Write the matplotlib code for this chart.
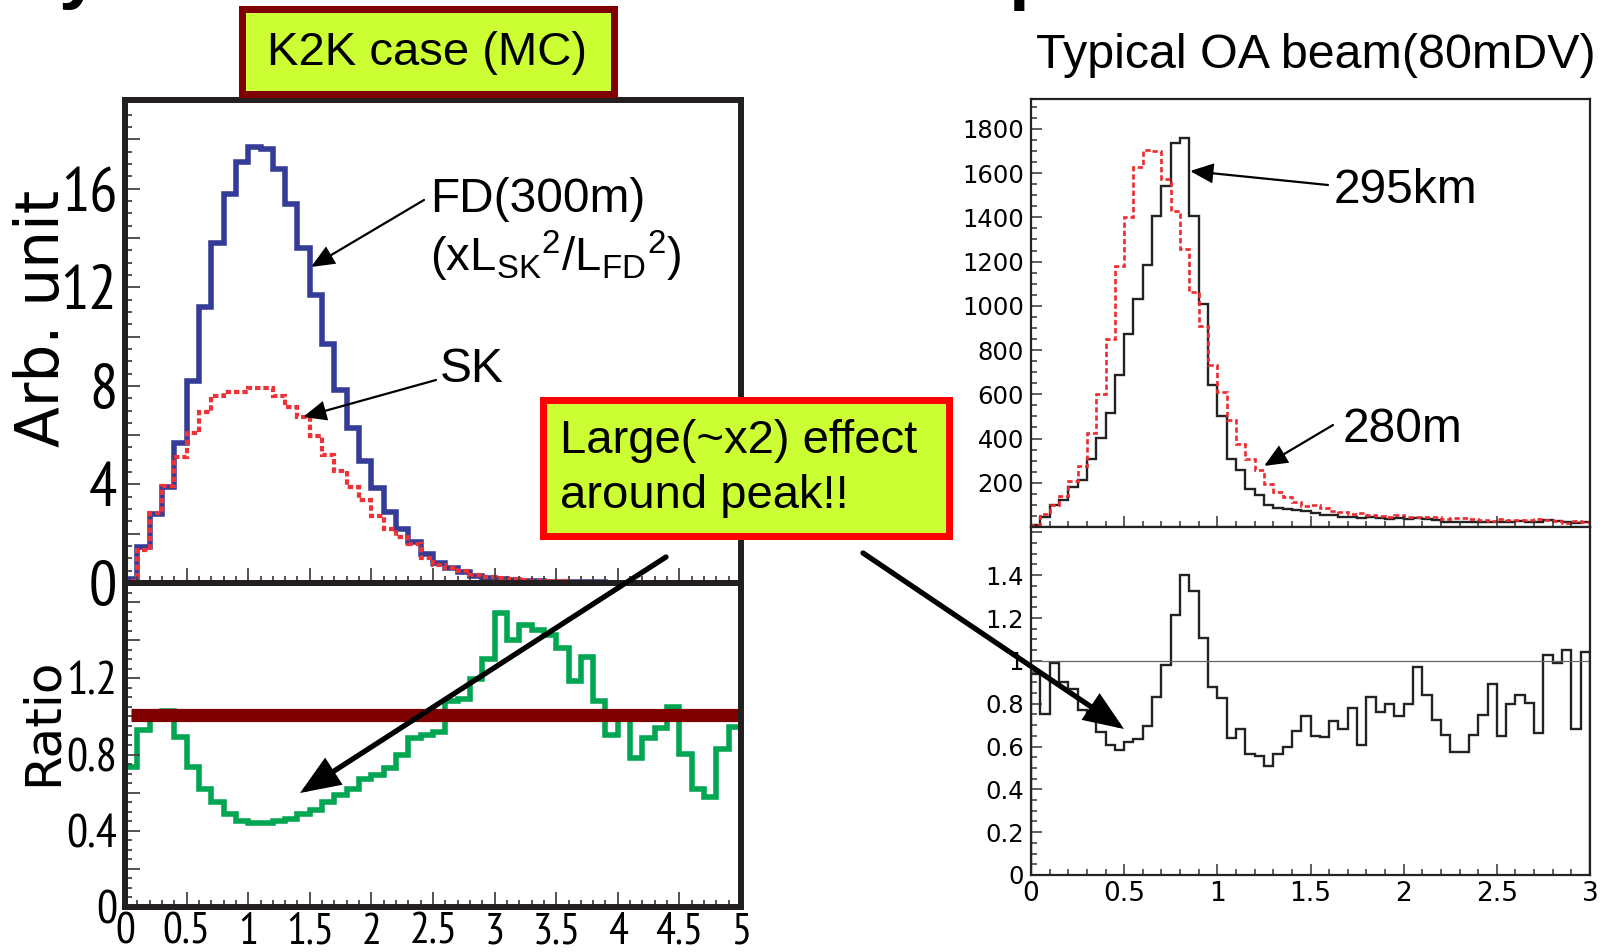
import numpy as np
import matplotlib
matplotlib.use("Agg")
import matplotlib.pyplot as plt
from matplotlib.patches import Rectangle, FancyArrowPatch
from matplotlib.ticker import MultipleLocator, FuncFormatter
from matplotlib.font_manager import FontProperties, fontManager, findfont
from matplotlib.textpath import TextPath

# ---------------- data ----------------
# K2K case (MC): 50 bins of 0.1 GeV from 0 to 5
k2k_range = (0.0, 5.0)
fd_300m = [0.15, 1.45, 2.8, 3.9, 5.7, 8.2, 11.2, 13.8, 15.8, 17.1,
           17.7, 17.6, 16.8, 15.4, 13.6, 11.7, 9.7, 7.85, 6.3, 4.96,
           3.85, 2.9, 2.2, 1.65, 1.16, 0.82, 0.62, 0.46, 0.3, 0.2,
           0.15, 0.11, 0.09, 0.07, 0.06, 0.05, 0.04, 0.03, 0.025, 0.02,
           0.015, 0.012, 0.01, 0.01, 0.008, 0.006, 0.005, 0.004, 0.004, 0.003]
sk = [0.1, 1.35, 2.85, 3.95, 5.1, 6.1, 6.95, 7.6, 7.75, 7.75,
      7.9, 7.9, 7.6, 7.15, 6.75, 5.95, 5.2, 4.55, 3.9, 3.35,
      2.7, 2.2, 1.85, 1.6, 1.0, 0.74, 0.62, 0.48, 0.32, 0.24,
      0.2, 0.15, 0.13, 0.1, 0.085, 0.068, 0.047, 0.04, 0.027, 0.018,
      0.015, 0.01, 0.009, 0.009, 0.008, 0.005, 0.003, 0.002, 0.003, 0.003]
k2k_ratio = [0.735, 0.93, 1.02, 1.03, 0.89, 0.735, 0.62, 0.55, 0.49, 0.45,
             0.44, 0.44, 0.45, 0.46, 0.49, 0.51, 0.55, 0.59, 0.62, 0.67,
             0.69, 0.73, 0.80, 0.885, 0.90, 0.92, 1.08, 1.09, 1.195, 1.30,
             1.54, 1.40, 1.48, 1.455, 1.425, 1.36, 1.185, 1.31, 1.08, 0.905,
             0.99, 0.78, 0.885, 0.94, 1.05, 0.805, 0.62, 0.575, 0.83, 0.945]
k2k_ref_level = 1.01
k2k_ref_span = (0.05, 5.0)
k2k_upper_labels = [0, 4, 8, 12, 16]
k2k_lower_labels = [0, 0.4, 0.8, 1.2]

# Typical OA beam (80mDV): 60 bins of 0.05 GeV from 0 to 3
oa_range = (0.0, 3.0)
oa_295km = [9, 43, 99, 124, 181, 214, 309, 403, 517, 687,
            871, 1029, 1186, 1408, 1543, 1738, 1759, 1408, 1006, 643,
            504, 309, 256, 174, 144, 99, 88, 81, 76, 72,
            65, 54, 52, 47, 47, 39, 43, 39, 36, 39,
            36, 42, 36, 31, 24, 24, 24, 24, 24, 24,
            24, 24, 26, 24, 24, 31, 29, 21, 17, 24]
oa_280m = [10, 57, 100, 138, 208, 278, 423, 601, 852, 1178,
           1400, 1626, 1706, 1698, 1574, 1429, 1256, 1061, 907, 731,
           609, 484, 374, 308, 259, 194, 156, 136, 113, 97,
           100, 84, 72, 69, 60, 64, 52, 51, 45, 53,
           45, 43, 43, 43, 37, 42, 42, 37, 32, 27,
           37, 30, 31, 30, 36, 30, 29, 20, 25, 23]
oa_ratio = [0.94, 0.754, 0.99, 0.90, 0.87, 0.77, 0.73, 0.67, 0.607, 0.583,
            0.622, 0.633, 0.695, 0.829, 0.98, 1.216, 1.40, 1.327, 1.109, 0.879,
            0.827, 0.638, 0.684, 0.565, 0.555, 0.509, 0.565, 0.596, 0.673, 0.742,
            0.649, 0.645, 0.72, 0.684, 0.782, 0.605, 0.832, 0.759, 0.80, 0.742,
            0.798, 0.972, 0.84, 0.726, 0.656, 0.575, 0.575, 0.653, 0.746, 0.894,
            0.649, 0.798, 0.84, 0.804, 0.661, 1.026, 0.988, 1.05, 0.684, 1.042]
oa_ref_level = 1.0
oa_lower_label_max = 1.4

# ---------------- styling ----------------
W, H, DPI = 1605, 952, 100
plt.rcParams['font.family'] = ['Liberation Sans', 'DejaVu Sans']
plt.rcParams['mathtext.fontset'] = 'custom'
plt.rcParams['mathtext.rm'] = 'Liberation Sans'
plt.rcParams['mathtext.it'] = 'Liberation Sans:italic'
plt.rcParams['mathtext.bf'] = 'Liberation Sans:bold'

BLUE, RED, GREEN, BROWN = '#343C97', '#EE3338', '#00A651', '#7F0000'
LIME = '#CCFF33'
FRAME = '#231F20'


# ---- pick the narrowest-looking installed sans face for the ROOT-style numbers ----
def font_ok(fp):
    try:
        findfont(fp, fallback_to_default=False)
        return True
    except Exception:
        return False


def measure(fp, s):
    ext = TextPath((0, 0), s, size=100, prop=fp).get_extents()
    return ext.width / 100.0, ext.height / 100.0


cands = [FontProperties(family='Liberation Sans')]
for nm in ['Liberation Sans Narrow', 'Arial Narrow', 'Roboto Condensed',
           'Open Sans Condensed', 'Noto Sans Condensed', 'Nimbus Sans Narrow']:
    fp = FontProperties(family=nm)
    if font_ok(fp):
        cands.append(fp)
for f in fontManager.ttflist:
    st = str(f.stretch).lower()
    if (('condensed' in st or 'narrow' in st or 'Narrow' in f.name or 'Condensed' in f.name)
            and f.style == 'normal' and str(f.weight).lower() in ('400', 'normal', 'regular', 'book')):
        cands.append(FontProperties(fname=f.fname))

best, best_err = cands[0], 1e9
for fp in cands:
    try:
        w16, _ = measure(fp, '16')
        _, capH = measure(fp, 'H')
        err = abs(w16 / capH - 1.15)
    except Exception:
        continue
    if err < best_err:
        best, best_err = fp, err
NUMFP = best
_, CAP = measure(NUMFP, 'H')


def fit_size(sample, cap_px, width_px):
    w, _ = measure(NUMFP, sample)
    s_cap = cap_px * 72.0 / DPI / CAP
    s_w = width_px * 72.0 / DPI / w
    return min(s_cap, s_w)


size_up_y = fit_size('16', 46, 50)
size_lo_y = fit_size('0.4', 37, 48)
size_lo_x = fit_size('0.5', 31, 58)

fig = plt.figure(figsize=(W / DPI, H / DPI), dpi=DPI)


def rect(x0, yt, x1, yb):
    return [x0 / W, 1 - yb / H, (x1 - x0) / W, (yb - yt) / H]


def listed(vals):
    def f(v, pos):
        for t in vals:
            if abs(v - t) < 1e-6:
                return '%g' % t
        return ''
    return FuncFormatter(f)


def frame(ax, lw, color=FRAME):
    for s in ax.spines.values():
        s.set_linewidth(lw)
        s.set_color(color)


# ---------------- left: K2K ----------------
axL1 = fig.add_axes(rect(125, 100, 741, 583))
axL2 = fig.add_axes(rect(125, 583, 741, 907))
e_k2k = np.linspace(k2k_range[0], k2k_range[1], len(fd_300m) + 1)

axL1.stairs(fd_300m, e_k2k, baseline=0, color=BLUE, lw=4.0, joinstyle='miter')
axL1.stairs(sk, e_k2k, baseline=0, color=RED, lw=3.0, ls=(0, (1.3, 0.7)))
axL1.set_xlim(*k2k_range)
axL1.set_ylim(0, 19.6)

axL2.hlines(k2k_ref_level, *k2k_ref_span, color=BROWN, lw=9.5)
axL2.stairs(k2k_ratio, e_k2k, baseline=0, color=GREEN, lw=4.0, joinstyle='miter')
axL2.set_xlim(*k2k_range)
axL2.set_ylim(0, 1.7)

PAD_L = 5.5
for ax in (axL1, axL2):
    frame(ax, 4.3)
    ax.xaxis.set_major_locator(MultipleLocator(0.5))
    ax.xaxis.set_minor_locator(MultipleLocator(0.1))
    ax.tick_params(which='both', direction='in', top=False, right=False,
                   color='#444444', width=1.3)
    ax.tick_params(which='major', length=11)
    ax.tick_params(which='minor', length=5)

axL1.yaxis.set_major_locator(MultipleLocator(2))
axL1.yaxis.set_minor_locator(MultipleLocator(0.5))
axL1.yaxis.set_major_formatter(listed(k2k_upper_labels))
axL1.tick_params(axis='y', pad=PAD_L)
axL1.tick_params(axis='x', labelbottom=False)

axL2.yaxis.set_major_locator(MultipleLocator(0.2))
axL2.yaxis.set_minor_locator(MultipleLocator(0.05))
axL2.yaxis.set_major_formatter(listed(k2k_lower_labels))
axL2.xaxis.set_major_formatter(FuncFormatter(lambda v, p: '%g' % round(v, 6)))
axL2.tick_params(axis='y', pad=PAD_L)
axL2.tick_params(axis='x', pad=4)

# ---------------- right: OA beam ----------------
axR1 = fig.add_axes(rect(1031, 99, 1590, 527))
axR2 = fig.add_axes(rect(1031, 527, 1590, 875))
e_oa = np.linspace(oa_range[0], oa_range[1], len(oa_295km) + 1)

axR1.stairs(oa_295km, e_oa, baseline=0, color='#222222', lw=1.7, joinstyle='miter')
axR1.stairs(oa_280m, e_oa, baseline=0, color='#EE2A2E', lw=1.9, ls=(0, (2.0, 1.1)))
axR1.set_xlim(*oa_range)
axR1.set_ylim(0, 1935)

axR2.axhline(oa_ref_level, color='#666666', lw=0.9)
axR2.stairs(oa_ratio, e_oa, baseline=0, color='#222222', lw=1.7, joinstyle='miter')
axR2.set_xlim(*oa_range)
axR2.set_ylim(0, 1.625)

for ax in (axR1, axR2):
    frame(ax, 1.6, '#222222')
    ax.xaxis.set_major_locator(MultipleLocator(0.5))
    ax.xaxis.set_minor_locator(MultipleLocator(0.1))
    ax.tick_params(which='both', direction='in', top=False, right=False,
                   color='#333333', width=1.1)
    ax.tick_params(which='major', length=8)
    ax.tick_params(which='minor', length=4)
    ax.tick_params(axis='both', labelfontfamily='DejaVu Sans')

axR1.yaxis.set_major_locator(MultipleLocator(200))
axR1.yaxis.set_minor_locator(MultipleLocator(50))
axR1.yaxis.set_major_formatter(FuncFormatter(lambda v, p: '' if v == 0 else '%d' % v))
axR1.tick_params(axis='y', labelsize=17.5, pad=5)
axR1.tick_params(axis='x', labelbottom=False)

axR2.yaxis.set_major_locator(MultipleLocator(0.2))
axR2.yaxis.set_minor_locator(MultipleLocator(0.05))
axR2.yaxis.set_major_formatter(FuncFormatter(
    lambda v, p: '%g' % round(v, 6) if v <= oa_lower_label_max + 1e-6 else ''))
axR2.xaxis.set_major_formatter(FuncFormatter(lambda v, p: '%g' % round(v, 6)))
axR2.tick_params(axis='y', labelsize=17.5, pad=5)
axR2.tick_params(axis='x', labelsize=19, pad=4)

# apply the narrow number face to the left panels' tick labels
fig.canvas.draw()
for lab in axL1.get_yticklabels():
    lab.set_fontproperties(NUMFP)
    lab.set_fontsize(size_up_y)
for lab in axL2.get_yticklabels():
    lab.set_fontproperties(NUMFP)
    lab.set_fontsize(size_lo_y)
for lab in axL2.get_xticklabels():
    lab.set_fontproperties(NUMFP)
    lab.set_fontsize(size_lo_x)

# where do the left number columns start (in px)?
w16, _ = measure(NUMFP, '16')
w12, _ = measure(NUMFP, '1.2')
num_left_up = 125 - PAD_L * DPI / 72.0 - w16 * size_up_y * DPI / 72.0
num_left_lo = 125 - PAD_L * DPI / 72.0 - w12 * size_lo_y * DPI / 72.0

# ---------------- overlay: boxes, labels, arrows ----------------
ov = fig.add_axes([0, 0, 1, 1], zorder=20)
ov.set_xlim(0, W)
ov.set_ylim(H, 0)
ov.axis('off')
ov.patch.set_alpha(0)


def box(x0, y0, x1, y1, ec, bw):
    ov.add_patch(Rectangle((x0 + bw / 2, y0 + bw / 2), x1 - x0 - bw, y1 - y0 - bw,
                           fc=LIME, ec=ec, lw=bw * 72 / DPI, joinstyle='miter'))


def arrow(p0, p1, lw, hl, hw, ms):
    ov.add_patch(FancyArrowPatch(p0, p1, arrowstyle='-|>,head_length=%g,head_width=%g' % (hl, hw),
                                 mutation_scale=ms, lw=lw, color='black',
                                 shrinkA=0, shrinkB=0, joinstyle='miter'))


# cut-off slide title glyphs at the very top
ov.text(58, -5, 'y', fontsize=54, fontweight='bold', va='baseline', clip_on=False)
ov.text(1008, -4, 'p', fontsize=54, fontweight='bold', va='baseline', clip_on=False)

box(238, 5, 617, 97, '#800000', 7)
ov.text(427, 65, 'K2K case (MC)', fontsize=34, ha='center', va='baseline')
ov.text(1036, 68, 'Typical OA beam(80mDV)', fontsize=34.8, va='baseline')

# axis titles: baseline left of the number columns
lab_up_x = min(72, num_left_up - 8)
lab_lo_x = min(57, num_left_lo - 8)
ov.text(lab_up_x, 318, 'Arb. unit', rotation=90, rotation_mode='anchor', fontsize=43,
        ha='center', va='baseline', family='DejaVu Sans')
ov.text(lab_lo_x, 722, 'Ratio', rotation=90, rotation_mode='anchor', fontsize=36,
        ha='center', va='baseline', family='DejaVu Sans')

ov.text(430, 212, 'FD(300m)', fontsize=34.5, va='baseline')
ov.text(430, 271, r'(x$\mathregular{L_{SK}{}^{2}/L_{FD}{}^{2}}$)', fontsize=34, va='baseline')
ov.text(440, 382, 'SK', fontsize=34.5, va='baseline')
ov.text(1334, 203, '295km', fontsize=34.5, va='baseline')
ov.text(1343, 442, '280m', fontsize=34.5, va='baseline')

box(539, 396, 952, 539, '#FF0000', 7)
ov.text(560, 453, 'Large(~x2) effect', fontsize=34, va='baseline')
ov.text(560, 508, 'around peak!!', fontsize=34, va='baseline')

arrow((424, 200), (311, 267), 1.6, 0.7, 0.3, 20)
arrow((436, 380), (303, 417), 1.6, 0.7, 0.3, 20)
arrow((1328, 185), (1190, 171), 1.6, 0.7, 0.3, 20)
arrow((1333, 425), (1264, 466), 1.6, 0.7, 0.3, 20)
arrow((666, 557), (300, 793), 3.8, 0.55, 0.22, 40)
arrow((863, 553), (1124, 729), 3.8, 0.55, 0.22, 40)

fig.savefig('out.png', dpi=DPI)
